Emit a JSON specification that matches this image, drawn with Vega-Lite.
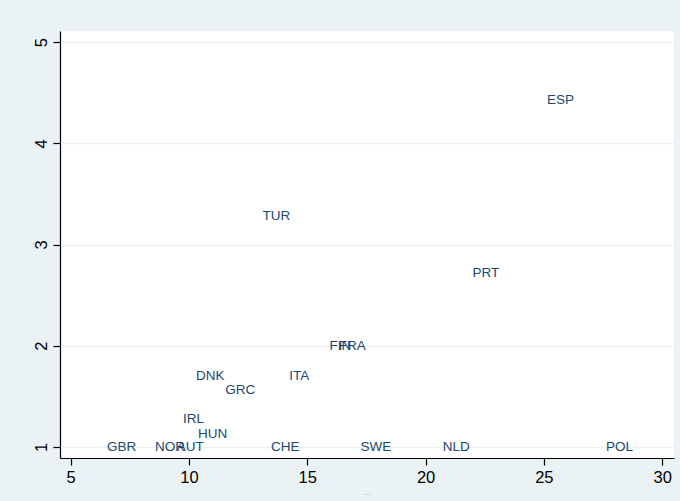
{
  "$schema": "https://vega.github.io/schema/vega-lite/v6.json",
  "width": 614,
  "height": 427,
  "autosize": {"type": "none"},
  "padding": {"left": 60, "top": 31, "right": 6, "bottom": 43},
  "background": "#EAF2F3",
  "config": {
    "view": {"stroke": null, "fill": "white"},
    "font": "Liberation Sans"
  },
  "data": {
    "values": [
      {"country": "ESP", "x": 25.7, "y": 4.43},
      {"country": "TUR", "x": 13.7, "y": 3.28},
      {"country": "PRT", "x": 22.55, "y": 2.72},
      {"country": "FIN", "x": 16.4, "y": 2.0},
      {"country": "FRA", "x": 16.9, "y": 2.0},
      {"country": "DNK", "x": 10.9, "y": 1.7},
      {"country": "ITA", "x": 14.66, "y": 1.7},
      {"country": "GRC", "x": 12.17, "y": 1.56},
      {"country": "IRL", "x": 10.19, "y": 1.28},
      {"country": "HUN", "x": 11.0, "y": 1.13},
      {"country": "GBR", "x": 7.15, "y": 1.0},
      {"country": "NOR", "x": 9.2, "y": 1.0},
      {"country": "AUT", "x": 10.05, "y": 1.0},
      {"country": "CHE", "x": 14.07, "y": 1.0},
      {"country": "SWE", "x": 17.9, "y": 1.0},
      {"country": "NLD", "x": 21.3, "y": 1.0},
      {"country": "POL", "x": 28.2, "y": 1.0}
    ]
  },
  "mark": {"type": "text", "align": "center", "baseline": "middle", "fontSize": 13.5, "color": "#1a476f"},
  "encoding": {
    "x": {
      "field": "x", "type": "quantitative",
      "scale": {"domain": [4.55, 30.5], "nice": false, "zero": false},
      "axis": {
        "values": [5, 10, 15, 20, 25, 30],
        "title": "_", "titleFontSize": 9, "titleColor": "#c8c8c8", "titleFontWeight": "normal", "titlePadding": 0,
        "grid": false,
        "domainColor": "#000000", "domainWidth": 1.2,
        "tickColor": "#000000", "tickSize": 7, "tickWidth": 1.2,
        "labelFontSize": 16.5, "labelColor": "#000000", "labelPadding": 4
      }
    },
    "y": {
      "field": "y", "type": "quantitative",
      "scale": {"domain": [0.89, 5.11], "nice": false, "zero": false},
      "axis": {
        "values": [1, 2, 3, 4, 5],
        "title": "_", "titleFontSize": 9, "titleColor": "#c8c8c8", "titleFontWeight": "normal", "titlePadding": 0,
        "grid": true, "gridColor": "#EAF2F3", "gridWidth": 1.5,
        "domainColor": "#000000", "domainWidth": 1.2,
        "tickColor": "#000000", "tickSize": 7, "tickWidth": 1.2,
        "labelFontSize": 16.5, "labelColor": "#000000", "labelPadding": 4,
        "labelAngle": -90, "labelAlign": "center", "labelBaseline": "bottom"
      }
    },
    "text": {"field": "country"}
  }
}
